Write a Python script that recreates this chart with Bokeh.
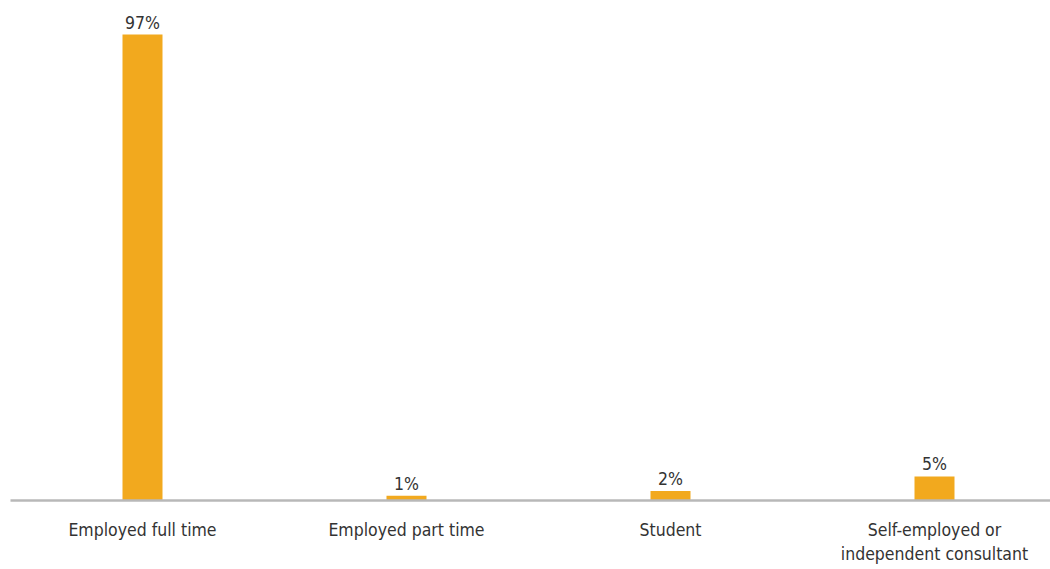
from bokeh.plotting import figure
from bokeh.models import Range1d, FixedTicker, ColumnDataSource
from bokeh.embed import file_html
from bokeh.resources import INLINE

categories = ["Employed full time", "Employed part time", "Student",
              "Self-employed or\nindependent consultant"]
values = [97, 1, 2, 5]
value_labels = [f"{v}%" for v in values]

positions = [i + 0.5 for i in range(len(categories))]

FONT = "DejaVu Sans Condensed"
BAR = "#F2A91E"
TEXT = "#333333"

p = figure(frame_width=1040, frame_height=500, output_backend="svg", toolbar_location=None,
           x_range=Range1d(0, 1040 / 264), y_range=Range1d(0, 500 / 4.804),
           y_axis_location=None, min_border_left=10, min_border_right=0,
           min_border_top=0, min_border_bottom=60)

src = ColumnDataSource(dict(x=positions, v=values, lab=value_labels))
p.vbar(x="x", top="v", width=40 / 264, source=src, color=BAR, line_color=None)
p.text(x="x", y="v", text="lab", source=src, text_align="center",
       text_baseline="middle", y_offset=-12, text_font_size="17.5px",
       text_color=TEXT, text_font={"value": FONT})

ax = p.xaxis[0]
ax.ticker = FixedTicker(ticks=positions)
ax.major_label_overrides = {pos: c for pos, c in zip(positions, categories)}
ax.major_tick_line_color = None
ax.minor_tick_line_color = None
ax.axis_line_color = "#b8b8b8"
ax.axis_line_width = 2.5
ax.major_label_standoff = 13
ax.major_label_text_font = FONT
ax.major_label_text_font_size = "17.5px"
ax.major_label_text_color = TEXT

p.xgrid.visible = False
p.ygrid.visible = False
p.outline_line_color = None
p.background_fill_color = "white"
p.border_fill_color = "white"

open("out.html", "w").write(file_html(p, INLINE))
